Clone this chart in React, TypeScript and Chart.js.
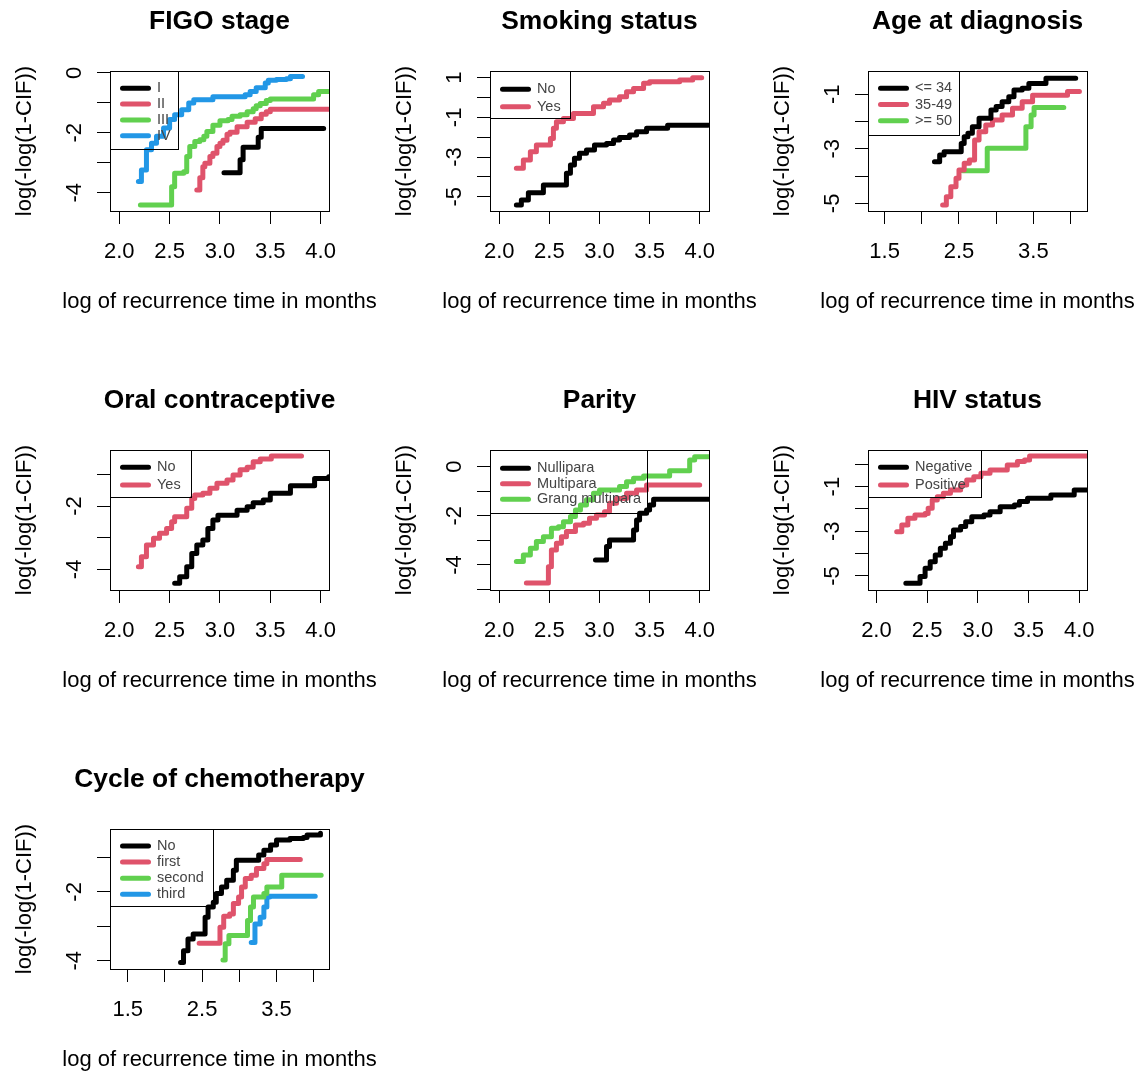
import React, { useEffect, useRef } from "react";
import { Chart, registerables } from "chart.js";

Chart.register(...registerables);

const FONT = "'Liberation Sans', Arial, Helvetica, sans-serif";
const BLACK = "#000000";
const RED = "#DF536B";
const GREEN = "#61D04F";
const BLUE = "#2297E6";

const X_TITLE = "log of recurrence time in months";
const Y_TITLE = "log(-log(1-CIF))";

// ---------- Panel 1: FIGO stage ----------
const figoLabels = ["I", "II", "III", "IV"];
const figoX1 = [3.04, 3.18, 3.2, 3.23, 3.35, 3.38, 3.41, 4.03];
const figoY1 = [-3.33, -3.33, -2.9, -2.48, -2.48, -2.15, -1.86, -1.86];
const figoX2 = [2.77, 2.8, 2.83, 2.85, 2.9, 2.93, 2.97, 3.0, 3.03, 3.07, 3.1, 3.17, 3.27, 3.35, 3.41, 3.46, 3.5, 4.08];
const figoY2 = [-3.91, -3.5, -3.13, -3.02, -2.79, -2.68, -2.46, -2.35, -2.25, -2.05, -1.98, -1.8, -1.65, -1.53, -1.38, -1.3, -1.22, -1.22];
const figoX3 = [2.21, 2.49, 2.52, 2.55, 2.64, 2.67, 2.7, 2.75, 2.8, 2.84, 2.87, 2.93, 3.0, 3.08, 3.12, 3.2, 3.27, 3.33, 3.36, 3.4, 3.46, 3.5, 3.89, 3.93, 3.98, 4.08];
const figoY3 = [-4.41, -4.41, -3.8, -3.35, -3.3, -2.79, -2.46, -2.29, -2.23, -2.12, -1.96, -1.75, -1.6, -1.56, -1.45, -1.4, -1.3, -1.2, -1.1, -1.02, -0.92, -0.87, -0.87, -0.73, -0.62, -0.62];
const figoX4 = [2.19, 2.22, 2.27, 2.32, 2.37, 2.44, 2.5, 2.55, 2.62, 2.69, 2.74, 2.88, 2.93, 3.25, 3.3, 3.36, 3.45, 3.48, 3.56, 3.66, 3.7, 3.82];
const figoY4 = [-3.63, -3.24, -2.57, -2.35, -2.12, -1.84, -1.56, -1.4, -1.23, -1.01, -0.9, -0.9, -0.8, -0.73, -0.62, -0.5, -0.34, -0.25, -0.22, -0.2, -0.12, -0.12];
const figoXRange = [1.908, 4.083];
const figoYRange = [-4.61, 0.06];
const figoXTickLabels = [2.0, 2.5, 3.0, 3.5, 4.0];
const figoYTickLabels = [0, -2, -4];

// ---------- Panel 2: Smoking status ----------
const smokeLabels = ["No", "Yes"];
const smokeXNo = [2.17, 2.22, 2.29, 2.37, 2.44, 2.62, 2.67, 2.71, 2.75, 2.8, 2.87, 2.95, 3.07, 3.14, 3.2, 3.3, 3.37, 3.47, 3.65, 3.68, 4.08];
const smokeYNo = [-5.42, -5.17, -4.8, -4.8, -4.41, -4.41, -3.82, -3.4, -3.06, -2.81, -2.65, -2.39, -2.31, -2.14, -2.01, -1.89, -1.72, -1.55, -1.55, -1.39, -1.39];
const smokeXYes = [2.17, 2.24, 2.31, 2.37, 2.47, 2.51, 2.54, 2.57, 2.64, 2.74, 2.87, 2.94, 3.04, 3.1, 3.2, 3.27, 3.34, 3.44, 3.5, 3.8, 3.9, 3.93, 4.02];
const smokeYYes = [-3.57, -3.15, -2.73, -2.39, -2.39, -2.06, -1.55, -1.22, -1.05, -0.8, -0.8, -0.46, -0.29, -0.12, 0.04, 0.29, 0.46, 0.72, 0.8, 0.88, 0.88, 1.0, 1.0];
const smokeXRange = [1.907, 4.093];
const smokeYRange = [-5.72, 1.34];
const smokeXTickLabels = [2.0, 2.5, 3.0, 3.5, 4.0];
const smokeYTickLabels = [1, -1, -3, -5];

// ---------- Panel 3: Age at diagnosis ----------
const ageLabels = ["<= 34", "35-49", ">= 50"];
const ageX1 = [2.17, 2.24, 2.3, 2.48, 2.53, 2.57, 2.62, 2.68, 2.77, 2.86, 2.93, 3.0, 3.08, 3.17, 3.24, 3.35, 3.44, 3.58, 3.67, 4.07];
const ageY1 = [-3.47, -3.23, -3.11, -3.11, -2.8, -2.56, -2.43, -2.19, -1.88, -1.88, -1.58, -1.45, -1.27, -1.09, -0.84, -0.78, -0.6, -0.6, -0.41, -0.41];
const ageX2 = [2.28, 2.33, 2.39, 2.46, 2.5, 2.57, 2.64, 2.71, 2.77, 2.86, 2.95, 3.08, 3.22, 3.35, 3.49, 3.9, 3.96, 4.12];
const ageY2 = [-5.06, -4.76, -4.39, -4.08, -3.78, -3.53, -3.41, -2.68, -2.37, -2.13, -1.94, -1.76, -1.51, -1.27, -1.03, -1.03, -0.9, -0.9];
const ageX3 = [2.55, 2.84, 2.88, 3.38, 3.4, 3.47, 3.51, 3.91];
const ageY3 = [-3.8, -3.8, -2.98, -2.98, -2.19, -1.76, -1.48, -1.48];
const ageXRange = [1.276, 4.222];
const ageYRange = [-5.28, -0.145];
const ageXTickLabels = [1.5, 2.5, 3.5];
const ageYTickLabels = [-1, -3, -5];

// ---------- Panel 4: Oral contraceptive ----------
const oralLabels = ["No", "Yes"];
const oralXNo = [2.55, 2.6, 2.67, 2.72, 2.77, 2.83, 2.88, 2.93, 2.98, 3.1, 3.17, 3.27, 3.33, 3.43, 3.5, 3.66, 3.7, 3.88, 3.94, 4.08];
const oralYNo = [-4.44, -4.23, -3.92, -3.5, -3.23, -3.07, -2.71, -2.44, -2.29, -2.29, -2.13, -2.02, -1.9, -1.81, -1.6, -1.6, -1.36, -1.36, -1.13, -1.08];
const oralXYes = [2.19, 2.22, 2.27, 2.34, 2.4, 2.47, 2.52, 2.55, 2.62, 2.67, 2.72, 2.75, 2.83, 2.9, 2.97, 3.07, 3.13, 3.2, 3.27, 3.33, 3.4, 3.51, 3.81];
const oralYYes = [-3.92, -3.6, -3.23, -3.02, -2.86, -2.71, -2.5, -2.34, -2.34, -2.07, -1.76, -1.65, -1.6, -1.44, -1.28, -1.18, -1.02, -0.86, -0.78, -0.6, -0.52, -0.42, -0.42];
const oralXRange = [1.908, 4.083];
const oralYRange = [-4.65, -0.233];
const oralXTickLabels = [2.0, 2.5, 3.0, 3.5, 4.0];
const oralYTickLabels = [-2, -4];

// ---------- Panel 5: Parity ----------
const parityLabels = ["Nullipara", "Multipara", "Grang multipara"];
const parityX1 = [2.96, 3.04, 3.07, 3.1, 3.3, 3.34, 3.37, 3.4, 3.47, 3.5, 3.54, 4.09];
const parityY1 = [-3.8, -3.8, -3.25, -2.98, -2.98, -2.58, -2.17, -1.9, -1.76, -1.56, -1.33, -1.33];
const parityX2 = [2.27, 2.46, 2.49, 2.52, 2.57, 2.62, 2.67, 2.76, 2.84, 2.9, 2.97, 3.05, 3.1, 3.17, 3.27, 3.37, 3.47, 4.0];
const parityY2 = [-4.74, -4.74, -4.07, -3.39, -3.12, -2.85, -2.64, -2.37, -2.3, -2.1, -1.97, -1.83, -1.49, -1.29, -1.08, -0.95, -0.74, -0.74];
const parityX3 = [2.17, 2.24, 2.31, 2.37, 2.44, 2.52, 2.59, 2.64, 2.71, 2.76, 2.81, 2.87, 2.94, 3.0, 3.14, 3.2, 3.27, 3.34, 3.44, 3.67, 3.7, 3.85, 3.9, 3.95, 4.09];
const parityY3 = [-3.86, -3.59, -3.32, -3.05, -2.85, -2.51, -2.44, -2.24, -2.03, -1.76, -1.56, -1.35, -1.08, -0.95, -0.95, -0.81, -0.61, -0.47, -0.38, -0.38, -0.16, -0.16, 0.27, 0.41, 0.41];
const parityXRange = [1.907, 4.093];
const parityYRange = [-5.02, 0.68];
const parityXTickLabels = [2.0, 2.5, 3.0, 3.5, 4.0];
const parityYTickLabels = [0, -2, -4];

// ---------- Panel 6: HIV status ----------
const hivLabels = ["Negative", "Positive"];
const hivXNeg = [2.29, 2.4, 2.43, 2.48, 2.53, 2.58, 2.63, 2.68, 2.73, 2.76, 2.83, 2.88, 2.94, 3.06, 3.12, 3.22, 3.36, 3.41, 3.49, 3.67, 3.72, 3.92, 3.95, 4.07];
const hivYNeg = [-5.33, -5.33, -5.03, -4.66, -4.36, -4.06, -3.76, -3.54, -3.24, -2.94, -2.79, -2.57, -2.35, -2.27, -2.12, -1.9, -1.82, -1.67, -1.52, -1.52, -1.37, -1.37, -1.15, -1.15];
const hivXPos = [2.2, 2.25, 2.31, 2.38, 2.48, 2.51, 2.55, 2.6, 2.66, 2.73, 2.83, 2.89, 2.96, 3.03, 3.12, 3.26, 3.29, 3.39, 3.46, 3.51, 4.07];
const hivYPos = [-3.02, -2.72, -2.42, -2.27, -2.2, -1.97, -1.6, -1.45, -1.3, -1.15, -0.93, -0.7, -0.56, -0.4, -0.26, -0.26, -0.03, 0.12, 0.19, 0.37, 0.37];
const hivXRange = [1.917, 4.076];
const hivYRange = [-5.63, 0.64];
const hivXTickLabels = [2.0, 2.5, 3.0, 3.5, 4.0];
const hivYTickLabels = [-1, -3, -5];

// ---------- Panel 7: Cycle of chemotherapy ----------
const chemoLabels = ["No", "first", "second", "third"];
const chemoX0 = [2.21, 2.25, 2.31, 2.38, 2.49, 2.54, 2.58, 2.65, 2.69, 2.76, 2.83, 2.92, 2.96, 3.19, 3.26, 3.33, 3.42, 3.5, 3.68, 3.86, 3.91, 4.09];
const chemoY0 = [-4.05, -3.71, -3.37, -3.22, -3.22, -2.74, -2.44, -2.3, -2.05, -1.86, -1.66, -1.37, -1.08, -1.08, -0.93, -0.79, -0.64, -0.49, -0.45, -0.42, -0.35, -0.3];
const chemoX1 = [2.46, 2.72, 2.74, 2.79, 2.87, 2.92, 2.99, 3.03, 3.08, 3.16, 3.23, 3.33, 3.37, 3.82];
const chemoY1 = [-3.49, -3.49, -3.03, -2.71, -2.64, -2.34, -2.15, -1.86, -1.61, -1.52, -1.32, -1.18, -1.06, -1.06];
const chemoX2 = [2.78, 2.81, 2.86, 3.08, 3.11, 3.15, 3.19, 3.33, 3.37, 3.5, 3.57, 4.1];
const chemoY2 = [-3.98, -3.51, -3.27, -3.27, -2.83, -2.44, -2.15, -2.05, -1.86, -1.86, -1.52, -1.52];
const chemoX3 = [3.16, 3.21, 3.28, 3.33, 3.37, 3.41, 4.02];
const chemoY3 = [-3.47, -2.93, -2.74, -2.44, -2.15, -2.13, -2.13];
const chemoXRange = [1.262, 4.205];
const chemoYRange = [-4.24, -0.173];
const chemoXTickLabels = [1.5, 2.5, 3.5];
const chemoYTickLabels = [-2, -4];

// ---------- layout / style ----------
const CANVAS_W = 380;
const CANVAS_H = 379;
const BOX_L = 110;
const BOX_R = 329;
const BOX_T = 71;
const BOX_B = 211;
const X_AXIS_H = 110;

type Series = { label: string; color: string; xs: number[]; ys: number[] };
type LegendGeom = { w: number; h: number; y0: number; dy: number };
type Panel = {
  title: string;
  left: number;
  top: number;
  series: Series[];
  xRange: number[];
  yRange: number[];
  xTicks: number[];
  yTicks: number[];
  legend: LegendGeom;
};

const panels: Panel[] = [
  {
    title: "FIGO stage", left: 0, top: 0,
    series: [
      { label: figoLabels[0], color: BLACK, xs: figoX1, ys: figoY1 },
      { label: figoLabels[1], color: RED, xs: figoX2, ys: figoY2 },
      { label: figoLabels[2], color: GREEN, xs: figoX3, ys: figoY3 },
      { label: figoLabels[3], color: BLUE, xs: figoX4, ys: figoY4 },
    ],
    xRange: figoXRange, yRange: figoYRange, xTicks: figoXTickLabels, yTicks: figoYTickLabels,
    legend: { w: 68, h: 78, y0: 17.3, dy: 15.8 },
  },
  {
    title: "Smoking status", left: 380, top: 0,
    series: [
      { label: smokeLabels[0], color: BLACK, xs: smokeXNo, ys: smokeYNo },
      { label: smokeLabels[1], color: RED, xs: smokeXYes, ys: smokeYYes },
    ],
    xRange: smokeXRange, yRange: smokeYRange, xTicks: smokeXTickLabels, yTicks: smokeYTickLabels,
    legend: { w: 80, h: 47.3, y0: 18.3, dy: 17.4 },
  },
  {
    title: "Age at diagnosis", left: 758, top: 0,
    series: [
      { label: ageLabels[0], color: BLACK, xs: ageX1, ys: ageY1 },
      { label: ageLabels[1], color: RED, xs: ageX2, ys: ageY2 },
      { label: ageLabels[2], color: GREEN, xs: ageX3, ys: ageY3 },
    ],
    xRange: ageXRange, yRange: ageYRange, xTicks: ageXTickLabels, yTicks: ageYTickLabels,
    legend: { w: 91, h: 64, y0: 17.3, dy: 16.2 },
  },
  {
    title: "Oral contraceptive", left: 0, top: 379,
    series: [
      { label: oralLabels[0], color: BLACK, xs: oralXNo, ys: oralYNo },
      { label: oralLabels[1], color: RED, xs: oralXYes, ys: oralYYes },
    ],
    xRange: oralXRange, yRange: oralYRange, xTicks: oralXTickLabels, yTicks: oralYTickLabels,
    legend: { w: 80.7, h: 47.3, y0: 17.3, dy: 17.7 },
  },
  {
    title: "Parity", left: 380, top: 379,
    series: [
      { label: parityLabels[0], color: BLACK, xs: parityX1, ys: parityY1 },
      { label: parityLabels[1], color: RED, xs: parityX2, ys: parityY2 },
      { label: parityLabels[2], color: GREEN, xs: parityX3, ys: parityY3 },
    ],
    xRange: parityXRange, yRange: parityYRange, xTicks: parityXTickLabels, yTicks: parityYTickLabels,
    legend: { w: 156.7, h: 63.3, y0: 18.3, dy: 15.5 },
  },
  {
    title: "HIV status", left: 758, top: 379,
    series: [
      { label: hivLabels[0], color: BLACK, xs: hivXNeg, ys: hivYNeg },
      { label: hivLabels[1], color: RED, xs: hivXPos, ys: hivYPos },
    ],
    xRange: hivXRange, yRange: hivYRange, xTicks: hivXTickLabels, yTicks: hivYTickLabels,
    legend: { w: 113.4, h: 47.3, y0: 17.3, dy: 17.7 },
  },
  {
    title: "Cycle of chemotherapy", left: 0, top: 758,
    series: [
      { label: chemoLabels[0], color: BLACK, xs: chemoX0, ys: chemoY0 },
      { label: chemoLabels[1], color: RED, xs: chemoX1, ys: chemoY1 },
      { label: chemoLabels[2], color: GREEN, xs: chemoX2, ys: chemoY2 },
      { label: chemoLabels[3], color: BLUE, xs: chemoX3, ys: chemoY3 },
    ],
    xRange: chemoXRange, yRange: chemoYRange, xTicks: chemoXTickLabels, yTicks: chemoYTickLabels,
    legend: { w: 103.3, h: 76.7, y0: 17, dy: 16.1 },
  },
];

// Frame box plus main title and axis titles (drawn unsqueezed, like R does)
const framePlugin = {
  id: "rFrame",
  afterDraw(chart: any, _args: any, opts: any) {
    const { ctx, chartArea: a } = chart;
    ctx.save();
    ctx.strokeStyle = "#000";
    ctx.lineWidth = 1;
    ctx.strokeRect(
      Math.round(a.left) + 0.5,
      Math.round(a.top) + 0.5,
      Math.round(a.right) - Math.round(a.left),
      Math.round(a.bottom) - Math.round(a.top)
    );
    const cx = (a.left + a.right) / 2;
    const cy = (a.top + a.bottom) / 2;
    ctx.fillStyle = "#000";
    ctx.textAlign = "center";
    ctx.textBaseline = "middle";
    ctx.font = `bold 26.4px ${FONT}`;
    ctx.fillText(opts.title, cx, a.top - 49);
    ctx.font = `22px ${FONT}`;
    ctx.fillText(X_TITLE, cx, a.bottom + 91.4);
    ctx.translate(24.7, cy);
    ctx.rotate(-Math.PI / 2);
    ctx.fillText(Y_TITLE, 0, 0);
    ctx.restore();
  },
};

const legendPlugin = {
  id: "rLegend",
  afterDatasetsDraw(chart: any, _args: any, opts: any) {
    const { ctx, chartArea: a } = chart;
    const L = Math.round(a.left);
    const T = Math.round(a.top);
    ctx.save();
    ctx.strokeStyle = "#000";
    ctx.lineWidth = 1;
    ctx.strokeRect(L + 0.5, T + 0.5, Math.round(opts.w), Math.round(opts.h));
    chart.data.datasets.forEach((ds: any, i: number) => {
      const y = T + opts.y0 + i * opts.dy;
      ctx.strokeStyle = ds.borderColor;
      ctx.lineWidth = 5;
      ctx.lineCap = "round";
      ctx.beginPath();
      ctx.moveTo(L + 12.5, y);
      ctx.lineTo(L + 38.5, y);
      ctx.stroke();
      ctx.fillStyle = "#444";
      ctx.font = `14.5px ${FONT}`;
      ctx.textBaseline = "middle";
      ctx.textAlign = "left";
      ctx.fillText(ds.label, L + 47, y);
    });
    ctx.restore();
  },
};

function hasTick(list: number[], v: number) {
  return list.some((t) => Math.abs(t - v) < 1e-6);
}

function PanelChart({ panel }: { panel: Panel }) {
  const ref = useRef<HTMLCanvasElement | null>(null);
  useEffect(() => {
    if (!ref.current) return;
    const datasets = panel.series.map((s) => ({
      label: s.label,
      data: s.xs.map((x, i) => ({ x, y: s.ys[i] })),
      borderColor: s.color,
      backgroundColor: s.color,
      borderWidth: 5,
      pointRadius: 0,
      pointHoverRadius: 0,
      stepped: "before" as const,
      fill: false,
      tension: 0,
      borderCapStyle: "round" as const,
      borderJoinStyle: "round" as const,
    }));
    const axisFont = { family: FONT, size: 22 };
    const chart = new Chart(ref.current, {
      type: "line",
      data: { datasets },
      plugins: [framePlugin, legendPlugin],
      options: {
        animation: false,
        responsive: false,
        maintainAspectRatio: false,
        events: [],
        layout: {
          padding: { left: 0, top: BOX_T, right: CANVAS_W - BOX_R, bottom: CANVAS_H - BOX_B - X_AXIS_H },
        },
        plugins: {
          legend: { display: false },
          tooltip: { enabled: false },
          title: { display: false },
          rLegend: panel.legend,
          rFrame: { title: panel.title },
        } as any,
        scales: {
          x: {
            type: "linear",
            min: panel.xRange[0],
            max: panel.xRange[1],
            afterFit: (s: any) => {
              s.height = X_AXIS_H;
              s.paddingLeft = 0;
              s.paddingRight = 0;
            },
            ticks: {
              stepSize: 0.5,
              includeBounds: false,
              autoSkip: false,
              minRotation: 0,
              maxRotation: 0,
              padding: 15,
              color: "#000",
              font: axisFont,
              callback: (v: any) => (hasTick(panel.xTicks, Number(v)) ? Number(v).toFixed(1) : ""),
            },
            grid: {
              display: true,
              drawOnChartArea: false,
              drawTicks: true,
              tickLength: 13,
              color: "#000",
              tickColor: "#000",
              lineWidth: 1,
            },
            border: { display: true, color: "#000", width: 1 },
            title: { display: false },
          },
          y: {
            type: "linear",
            min: panel.yRange[0],
            max: panel.yRange[1],
            afterFit: (s: any) => {
              s.width = BOX_L;
              s.paddingTop = 0;
              s.paddingBottom = 0;
            },
            ticks: {
              stepSize: 1,
              includeBounds: false,
              autoSkip: false,
              minRotation: 90,
              maxRotation: 90,
              crossAlign: "center",
              padding: 12,
              color: "#000",
              font: axisFont,
              callback: (v: any) => (hasTick(panel.yTicks, Number(v)) ? String(Math.round(Number(v))) : ""),
            },
            grid: {
              display: true,
              drawOnChartArea: false,
              drawTicks: true,
              tickLength: 13,
              color: "#000",
              tickColor: "#000",
              lineWidth: 1,
            },
            border: { display: true, color: "#000", width: 1 },
            title: { display: false },
          },
        },
      } as any,
    });
    return () => chart.destroy();
  }, [panel]);
  return (
    <canvas
      ref={ref}
      width={CANVAS_W}
      height={CANVAS_H}
      style={{ position: "absolute", left: panel.left, top: panel.top, width: CANVAS_W, height: CANVAS_H }}
    />
  );
}

export default function App() {
  return (
    <div style={{ position: "absolute", left: 0, top: 0, width: 1144, height: 1073, background: "#fff" }}>
      {panels.map((p) => (
        <PanelChart key={p.title} panel={p} />
      ))}
    </div>
  );
}
